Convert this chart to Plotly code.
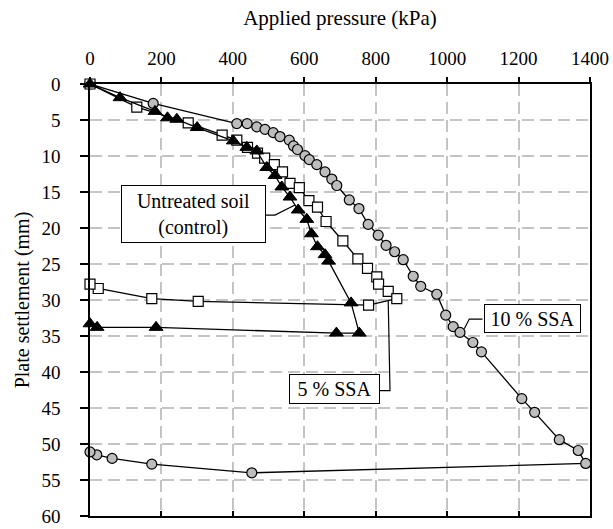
import plotly.graph_objects as go

# ---------------- data ----------------
ssa10_pressure = [0, 177, 411, 440, 467, 490, 513, 532, 558, 570, 581, 602, 614, 635, 658, 677, 691,
                  726, 753, 779, 807, 829, 853, 877, 905, 926, 971, 996, 1017, 1036, 1072, 1096,
                  1209, 1245, 1314, 1367, 1388, 453, 173, 62, 19, 0]
ssa10_settlement = [0, 2.7, 5.5, 5.5, 5.95, 6.3, 6.75, 7.3, 7.8, 8.6, 9.1, 9.95, 10.5, 11.2, 12.2, 13.2, 14.1,
                    16.1, 17.3, 19.5, 21.0, 22.4, 23.3, 24.4, 26.7, 28.1, 29.2, 32.1, 33.7, 34.5, 35.9, 37.2,
                    43.7, 45.6, 49.4, 50.9, 52.7, 54.0, 52.8, 52.0, 51.5, 51.1]

ssa5_pressure = [0, 131, 275, 370, 411, 441, 469, 489, 516, 539, 560, 586, 613, 637, 661, 708, 750,
                 777, 803, 808, 835, 859, 780, 303, 173, 23, 0]
ssa5_settlement = [0, 3.2, 5.4, 7.1, 7.8, 8.8, 9.6, 10.3, 11.2, 12.2, 13.8, 14.4, 16.2, 17.1, 19.1, 21.8, 24.3,
                   25.6, 26.8, 27.8, 28.8, 29.8, 30.7, 30.2, 29.8, 28.4, 27.8]

control_pressure = [0, 84, 182, 217, 243, 300, 401, 439, 467, 495, 518, 537, 560, 583, 607, 620, 637,
                    658, 668, 731, 754, 690, 185, 20, 0]
control_settlement = [0, 1.9, 3.8, 4.7, 4.9, 6.05, 7.9, 8.8, 9.3, 11.6, 12.7, 14.3, 15.7, 17.5, 18.8, 20.8, 22.6,
                      23.7, 24.6, 30.4, 34.6, 34.6, 33.8, 33.8, 33.3]

x_ticks = [0, 200, 400, 600, 800, 1000, 1200, 1400]
y_ticks = [0, 5, 10, 15, 20, 25, 30, 35, 40, 45, 50, 55, 60]

# label boxes: text, centre (kPa, mm), callout path points (kPa, mm)
label_texts = ["Untreated soil<br>(control)", "5 % SSA", "10 % SSA"]
label_x = [290, 685, 1238]
label_y = [18.0, 42.3, 32.6]
callout_x = [[490, 518, 574], [812, 840, 835], [1099, 1062, 1048]]
callout_y = [[18.2, 18.2, 16.8], [42.6, 42.6, 30.1], [32.65, 32.65, 34.0]]

FONT = "Liberation Serif"
TICKFONT = dict(family=FONT, size=19, color="black")

fig = go.Figure()

fig.add_trace(go.Scatter(
    x=ssa10_pressure, y=ssa10_settlement, mode="lines+markers", name="10 % SSA",
    line=dict(color="black", width=1.3),
    marker=dict(symbol="circle", size=10, color="#bdbdbd", line=dict(color="black", width=1.2)),
    cliponaxis=False, showlegend=False))
fig.add_trace(go.Scatter(
    x=ssa5_pressure, y=ssa5_settlement, mode="lines+markers", name="5 % SSA",
    line=dict(color="black", width=1.3),
    marker=dict(symbol="square", size=10, color="white", line=dict(color="black", width=1.2)),
    cliponaxis=False, showlegend=False))
fig.add_trace(go.Scatter(
    x=control_pressure, y=control_settlement, mode="lines+markers", name="Untreated soil (control)",
    line=dict(color="black", width=1.3),
    marker=dict(symbol="triangle-up", size=12, color="black", line=dict(color="black", width=1)),
    cliponaxis=False, showlegend=False))

# invisible trace to bring the bottom (inside-tick) axis into existence
fig.add_trace(go.Scatter(x=[None], y=[None], xaxis="x2", yaxis="y", showlegend=False, hoverinfo="skip"))

for cx, cy in zip(callout_x, callout_y):
    path = "M " + " L ".join(f"{a},{b}" for a, b in zip(cx, cy))
    fig.add_shape(type="path", path=path, xref="x", yref="y", line=dict(color="black", width=1.2))

widths = [139, 85, 91]
heights = [52, 24, 23]
for t, x, y, w, h in zip(label_texts, label_x, label_y, widths, heights):
    fig.add_annotation(x=x, y=y, xref="x", yref="y", text=t, showarrow=False,
                       font=dict(family=FONT, size=20, color="black"),
                       bgcolor="white", bordercolor="black", borderwidth=1, borderpad=2,
                       width=w, height=h, align="center")

grid = dict(showgrid=True, gridcolor="#c4c4c4", gridwidth=1.5, griddash="12px,6px")

fig.update_layout(
    width=613, height=529,
    margin=dict(l=90, r=23, t=84, b=13),
    paper_bgcolor="white", plot_bgcolor="rgba(0,0,0,0)",
    font=dict(family=FONT, size=19, color="black"),
    xaxis=dict(side="top", range=[0, 1400], tickvals=x_ticks, ticks="outside", ticklen=5,
               tickwidth=1.5, tickcolor="black", showline=True, linecolor="black", linewidth=1.5,
               zeroline=False, tickfont=TICKFONT, ticklabeloverflow="allow", automargin=False,
               title=dict(text="Applied pressure (kPa)", font=dict(family=FONT, size=21), standoff=16),
               ticklabelstandoff=5, layer="above traces", **grid),
    xaxis2=dict(overlaying="x", side="bottom", range=[0, 1400], tickvals=x_ticks, ticks="inside",
                ticklen=5, tickwidth=1.5, tickcolor="black", showline=True, linecolor="black",
                linewidth=1.5, showticklabels=False, showgrid=False, zeroline=False, automargin=False),
    yaxis=dict(range=[60, 0], tickvals=y_ticks, ticks="outside", ticklen=8, tickwidth=1.5,
               tickcolor="black", showline=True, linecolor="black", linewidth=1.5, mirror=True,
               zeroline=False, tickfont=TICKFONT, ticklabeloverflow="allow", automargin=False,
               title=dict(text="Plate settlement (mm)", font=dict(family=FONT, size=20), standoff=6),
               ticklabelstandoff=16, **grid),
)

fig.write_html("out.html", config={"displayModeBar": False},
               post_script="document.body.style.margin='0';document.body.style.padding='0';")
